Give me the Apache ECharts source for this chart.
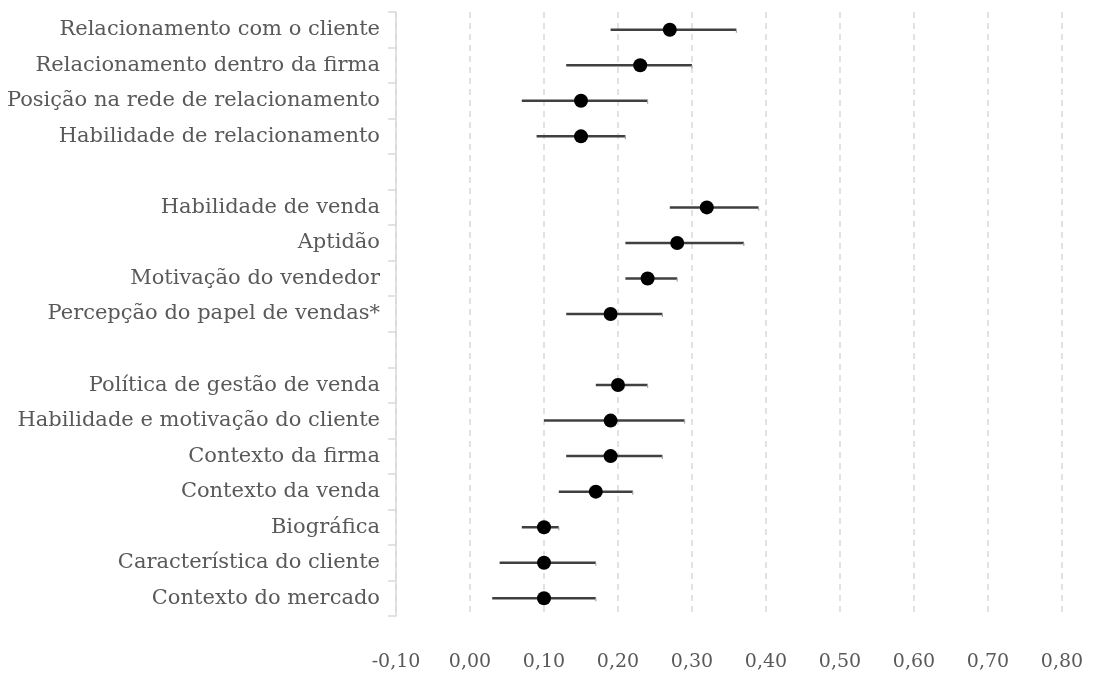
<!DOCTYPE html>
<html>
<head>
<meta charset="utf-8">
<script src="https://cdn.jsdelivr.net/npm/echarts@6/dist/echarts.min.js"></script>
<style>
  html, body { margin: 0; padding: 0; background: #ffffff; }
  #chart { width: 1098px; height: 673px; }
</style>
</head>
<body>
<div id="chart"></div>
<script>
// Factor labels, top to bottom; empty strings are spacer rows between groups
const categories = [
  'Relacionamento com o cliente',
  'Relacionamento dentro da firma',
  'Posição na rede de relacionamento',
  'Habilidade de relacionamento',
  '',
  'Habilidade de venda',
  'Aptidão',
  'Motivação do vendedor',
  'Percepção do papel de vendas*',
  '',
  'Política de gestão de venda',
  'Habilidade e motivação do cliente',
  'Contexto da firma',
  'Contexto da venda',
  'Biográfica',
  'Característica do cliente',
  'Contexto do mercado'
];

// Point estimate and interval bounds per row (null for spacer rows)
const estimates = [0.27, 0.23, 0.15, 0.15, null, 0.32, 0.28, 0.24, 0.19, null, 0.20, 0.19, 0.19, 0.17, 0.10, 0.10, 0.10];
const lower     = [0.19, 0.13, 0.07, 0.09, null, 0.27, 0.21, 0.21, 0.13, null, 0.17, 0.10, 0.13, 0.12, 0.07, 0.04, 0.03];
const upper     = [0.36, 0.30, 0.24, 0.21, null, 0.39, 0.37, 0.28, 0.26, null, 0.24, 0.29, 0.26, 0.22, 0.12, 0.17, 0.17];

const xMin = -0.1, xMax = 0.8, xStep = 0.1;

const textColor = '#595959';
const fontFamily = '"DejaVu Serif", "Liberation Serif", serif';

const pointData = [];
const rangeData = [];
estimates.forEach((v, i) => {
  if (v === null) return;
  pointData.push([v, i]);
  rangeData.push([lower[i], upper[i], i]);
});

const chart = echarts.init(document.getElementById('chart'), null, { renderer: 'canvas' });

chart.setOption({
  animation: false,
  backgroundColor: '#ffffff',
  grid: { left: 396, right: 36, top: 12, bottom: 57, containLabel: false },
  xAxis: {
    type: 'value',
    min: xMin,
    max: xMax,
    interval: xStep,
    axisLine: { show: false },
    axisTick: { show: false },
    axisLabel: {
      color: textColor,
      fontFamily: fontFamily,
      fontSize: 19,
      margin: 37,
      formatter: v => v.toFixed(2).replace('.', ',')
    },
    splitLine: {
      show: true,
      lineStyle: { color: '#d9d9d9', width: 1.5, type: [6, 5] }
    }
  },
  yAxis: {
    type: 'category',
    inverse: true,
    data: categories,
    boundaryGap: true,
    axisLine: { show: true, onZero: false, lineStyle: { color: '#d9d9d9', width: 1.5 } },
    axisTick: { show: true, length: 8, lineStyle: { color: '#d9d9d9', width: 1.5 } },
    axisLabel: {
      color: textColor,
      fontFamily: fontFamily,
      fontSize: 21,
      margin: 16
    },
    splitLine: { show: false }
  },
  series: [
    {
      type: 'custom',
      name: 'intervalo',
      data: rangeData,
      encode: { x: [0, 1], y: 2 },
      renderItem: (params, api) => {
        const row = api.value(2);
        const a = api.coord([api.value(0), row]);
        const b = api.coord([api.value(1), row]);
        return {
          type: 'group',
          children: [
            {
              type: 'line',
              shape: { x1: a[0], y1: a[1], x2: b[0], y2: b[1] },
              style: { stroke: '#404040', lineWidth: 2.5 }
            },
            {
              type: 'line',
              shape: { x1: b[0], y1: b[1], x2: b[0], y2: b[1] + 3 },
              style: { stroke: '#a6a6a6', lineWidth: 1.2 }
            }
          ]
        };
      },
      z: 2
    },
    {
      type: 'scatter',
      name: 'estimativa',
      data: pointData,
      symbol: 'circle',
      symbolSize: 14,
      itemStyle: { color: '#000000', opacity: 1 },
      z: 3
    }
  ]
});
</script>
</body>
</html>
